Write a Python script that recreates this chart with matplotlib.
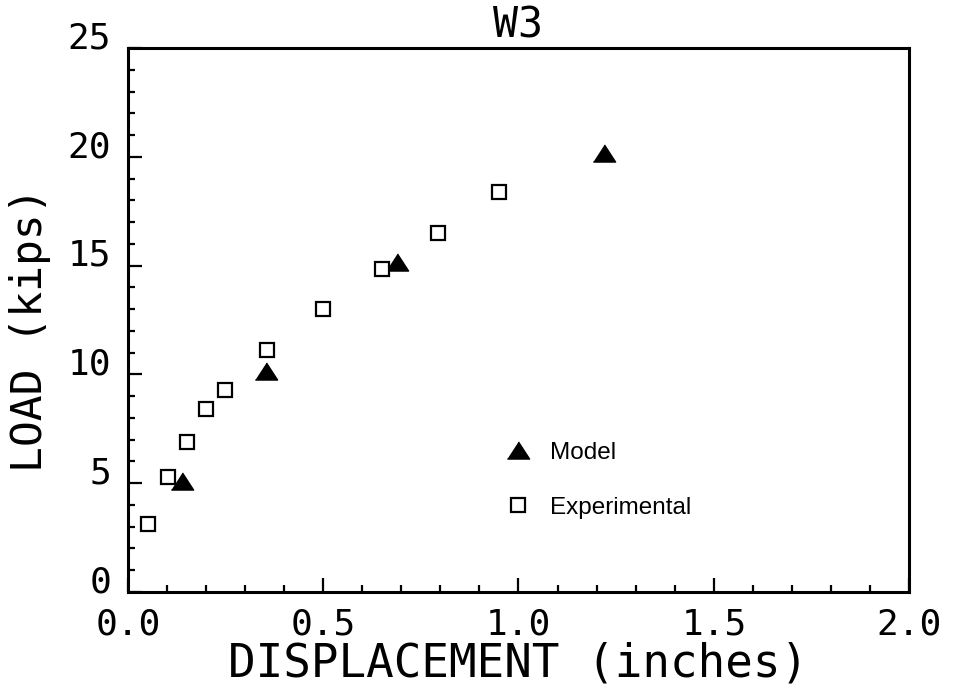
import matplotlib
matplotlib.use('Agg')
import matplotlib.pyplot as plt
import matplotlib.transforms as mtransforms
from matplotlib.ticker import MultipleLocator

# valores (W3)
model_x = [0.138, 0.353, 0.690, 1.220]
model_y = [5.1, 10.15, 15.15, 20.2]

exp_x = [0.051, 0.102, 0.151, 0.200, 0.248, 0.355, 0.499, 0.650, 0.795, 0.949]
exp_y = [3.1, 5.3, 6.9, 8.4, 9.3, 11.1, 13.0, 14.85, 16.5, 18.4]

x_ticks = [0.0, 0.5, 1.0, 1.5, 2.0]
x_labels = ['0.0', '0.5', '1.0', '1.5', '2.0']
y_ticks = [0, 5, 10, 15, 20, 25]
y_labels = ['0', '5', '10', '15', '20', '25']

mono = 'DejaVu Sans Mono'
tri = [(-1, -0.77), (1, -0.77), (0, 0.77)]

fig = plt.figure(figsize=(9.54, 6.89), dpi=100)
ax = fig.add_axes([0.134, 0.141, 0.819, 0.789])

ax.plot(model_x, model_y, linestyle='none', marker=tri, markersize=16,
        color='black', label='Model')
ax.plot(exp_x, exp_y, linestyle='none', marker='s', markersize=9.5,
        markerfacecolor='white', markeredgecolor='black', markeredgewidth=1.6,
        label='Experimental')

ax.set_xlim(0, 2.0)
ax.set_ylim(0, 25)
ax.set_xticks(x_ticks)
ax.set_xticklabels(x_labels, family=mono, fontsize=26)
ax.set_yticks(y_ticks)
ax.set_yticklabels(y_labels, family=mono, fontsize=26)
ax.xaxis.set_minor_locator(MultipleLocator(0.1))
ax.yaxis.set_minor_locator(MultipleLocator(1))
ax.tick_params(which='both', direction='in', width=1.6, top=False, right=False)
ax.tick_params(which='major', length=10)
ax.tick_params(which='minor', length=5)
ax.tick_params(axis='x', which='major', pad=11)
ax.tick_params(axis='y', which='major', pad=12)

# os numeros do eixo y ficam um pouco acima dos tracos no original
desloc = mtransforms.ScaledTranslation(0, 9.5 / 72, fig.dpi_scale_trans)
for lbl in ax.get_yticklabels():
    lbl.set_transform(lbl.get_transform() + desloc)

for s in ax.spines.values():
    s.set_linewidth(2.2)

ax.set_title('W3', family=mono, fontsize=30, pad=8)
ax.set_xlabel('DISPLACEMENT (inches)', family=mono, fontsize=33, labelpad=0)
ax.set_ylabel('LOAD (kips)', family=mono, fontsize=31)
ax.yaxis.set_label_coords(-0.098, 0.482)

leg = ax.legend(loc='upper left', bbox_to_anchor=(0.484, 0.276), frameon=False,
                borderpad=0, borderaxespad=0, handlelength=1.0,
                handletextpad=0.8, labelspacing=1.35,
                prop={'family': 'Liberation Sans', 'size': 17.5})

plt.savefig('out.png', dpi=100)
plt.close()
